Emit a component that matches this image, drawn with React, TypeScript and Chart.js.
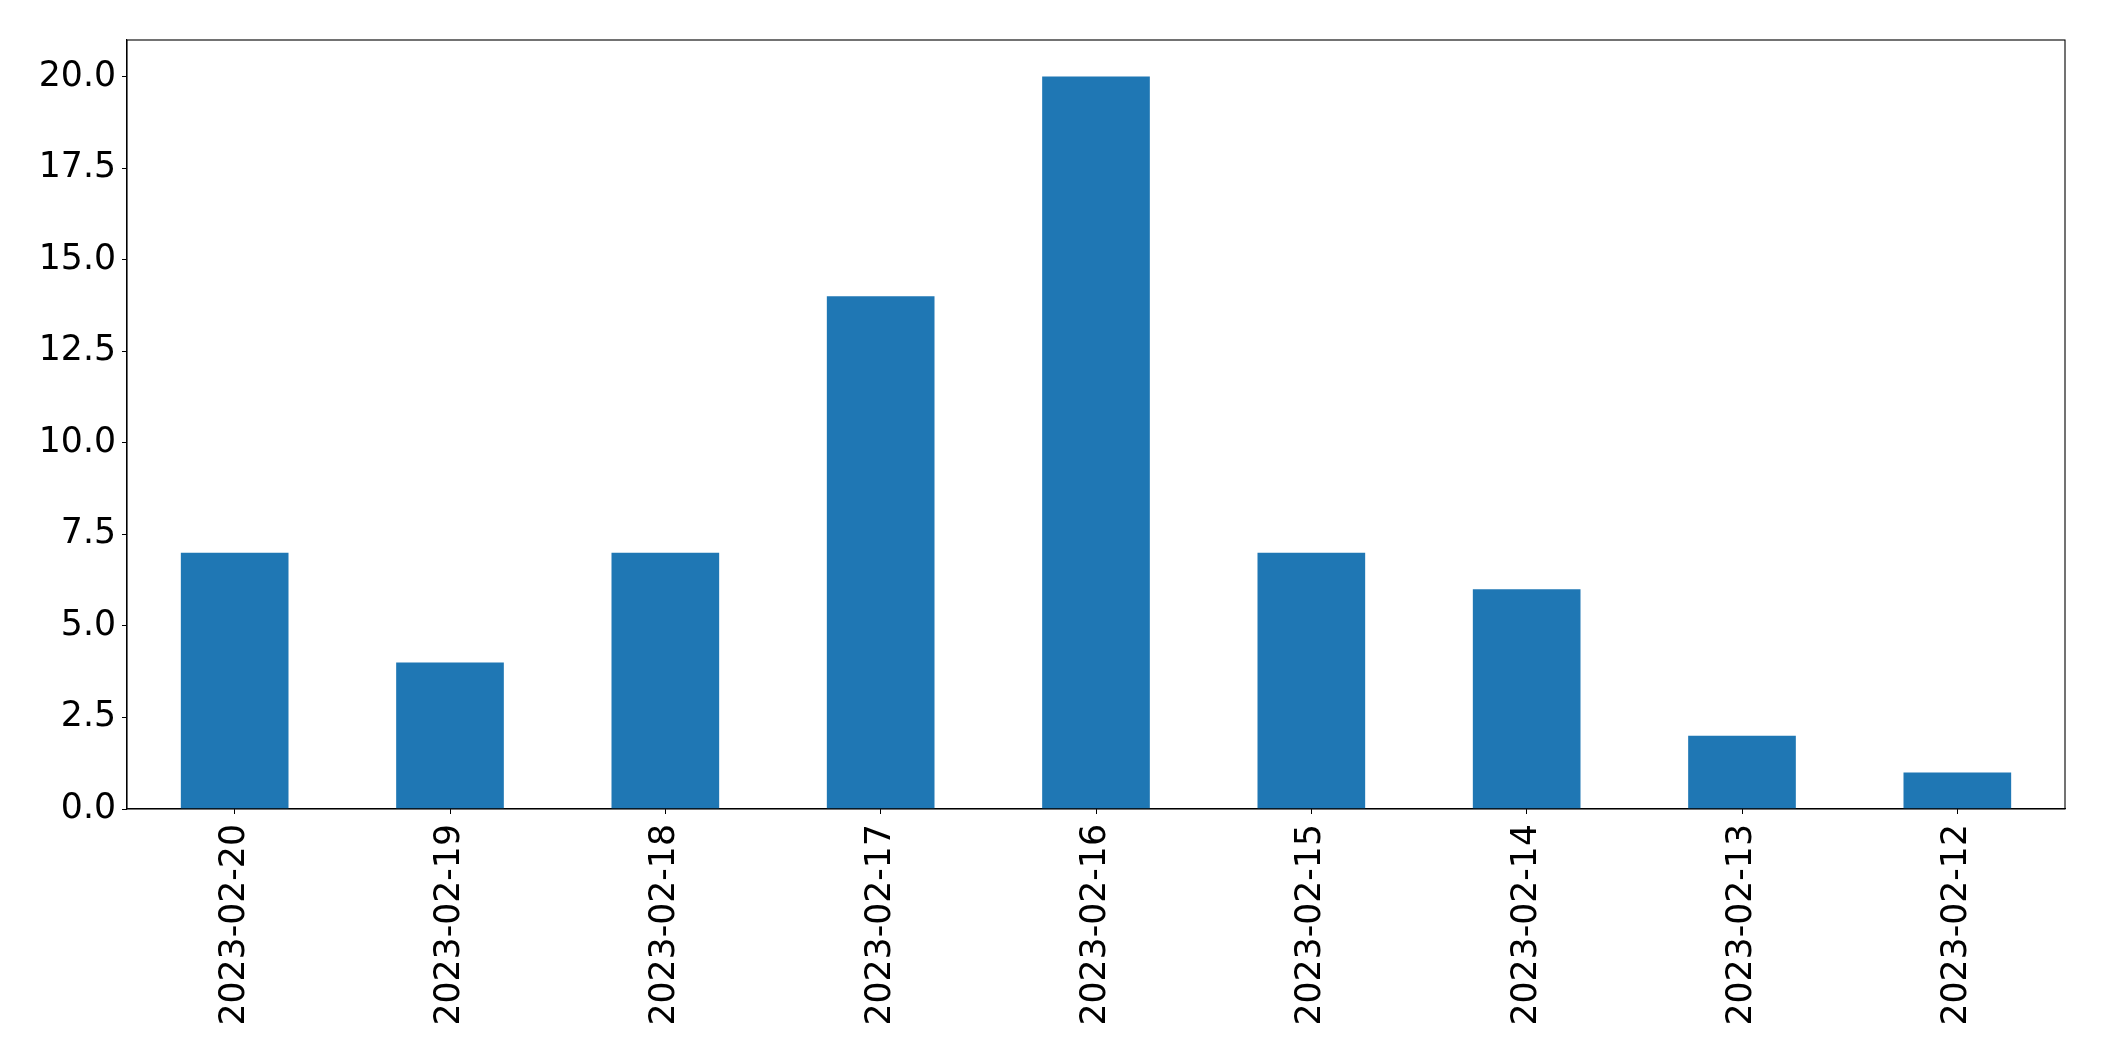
import React, { useEffect, useRef } from "react";
import { Chart, registerables } from "chart.js";

Chart.register(...registerables);

const categories = [
  "2023-02-20",
  "2023-02-19",
  "2023-02-18",
  "2023-02-17",
  "2023-02-16",
  "2023-02-15",
  "2023-02-14",
  "2023-02-13",
  "2023-02-12",
];
const counts = [7, 4, 7, 14, 20, 7, 6, 2, 1];
const yTickValues = [0, 2.5, 5, 7.5, 10, 12.5, 15, 17.5, 20];

const frame = {
  id: "frame",
  afterDraw(chart: any) {
    const { ctx, chartArea } = chart;
    ctx.save();
    ctx.strokeStyle = "#000";
    ctx.lineWidth = 1.1;
    ctx.strokeRect(chartArea.left, chartArea.top, chartArea.right - chartArea.left, chartArea.bottom - chartArea.top);
    ctx.restore();
  },
};

export default function App() {
  const ref = useRef<HTMLCanvasElement>(null);
  useEffect(() => {
    document.body.style.margin = "0";
    const chart = new Chart(ref.current!, {
      type: "bar",
      data: {
        labels: categories,
        datasets: [
          {
            data: counts,
            backgroundColor: "#1f77b4",
            borderWidth: 0,
            barPercentage: 0.5,
            categoryPercentage: 1,
          },
        ],
      },
      options: {
        animation: false,
        responsive: false,
        layout: { padding: { left: 0, top: 40, right: 39, bottom: 0 } },
        plugins: { legend: { display: false }, tooltip: { enabled: false } },
        scales: {
          x: {
            offset: true,
            grid: { drawOnChartArea: false, drawTicks: true, tickLength: 5, color: "#000", offset: false },
            border: { display: true, color: "#000", width: 1.1 },
            ticks: {
              minRotation: 90,
              maxRotation: 90,
              autoSkip: false,
              padding: 10,
              color: "#000",
              font: { family: "DejaVu Sans", size: 34.7 },
            },
            afterFit(scale: any) {
              scale.height = 1061 - 809;
            },
          },
          y: {
            min: 0,
            max: 21,
            grid: { drawOnChartArea: false, drawTicks: true, tickLength: 5, color: "#000" },
            border: { display: true, color: "#000", width: 1.1 },
            afterBuildTicks(scale: any) {
              scale.ticks = yTickValues.map((v) => ({ value: v }));
            },
            ticks: {
              padding: 6,
              color: "#000",
              font: { family: "DejaVu Sans", size: 34.7 },
              callback: (v: any) => Number(v).toFixed(1),
            },
            afterFit(scale: any) {
              scale.width = 127;
            },
          },
        },
      },
      plugins: [frame],
    });
    return () => chart.destroy();
  }, []);
  return (
    <div style={{ position: "fixed", left: 0, top: 0, width: 2104, height: 1061, background: "#fff" }}>
      <canvas ref={ref} width={2104} height={1061} style={{ width: 2104, height: 1061, display: "block" }} />
    </div>
  );
}
